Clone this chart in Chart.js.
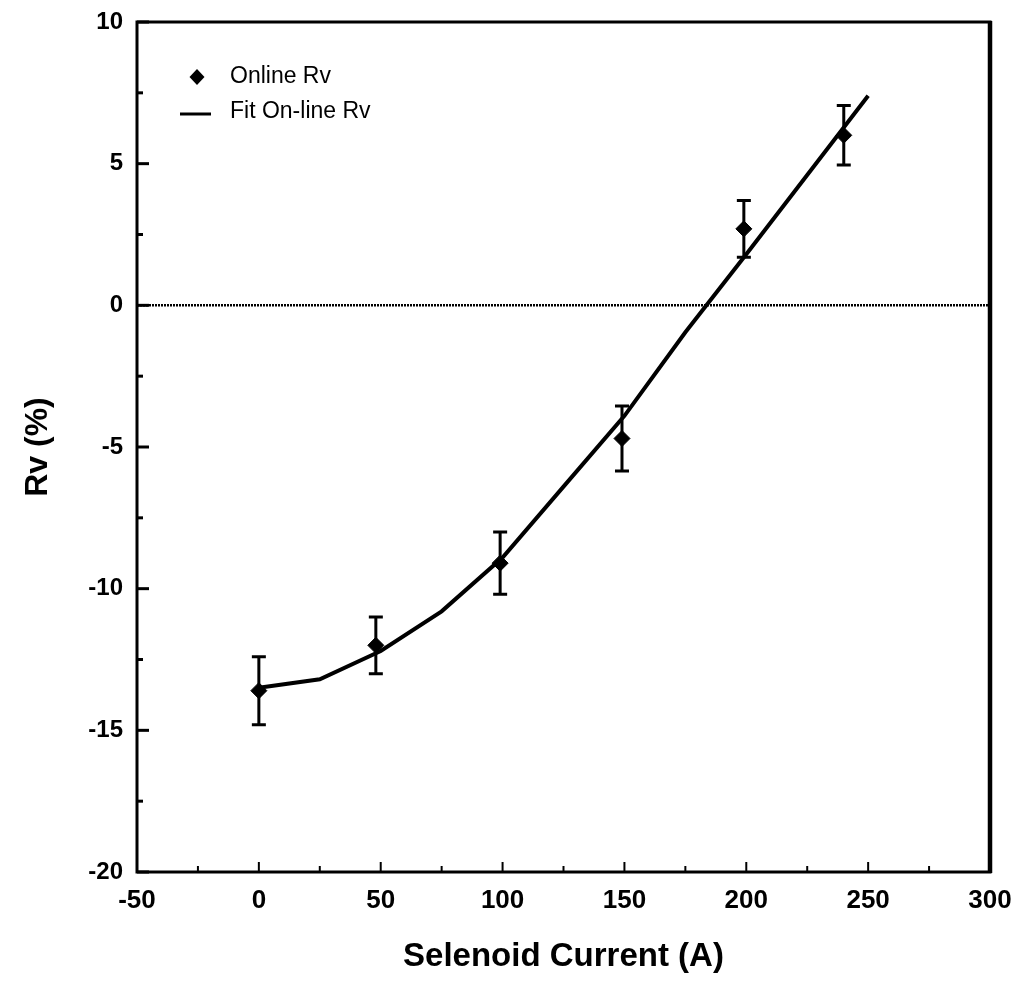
<!DOCTYPE html>
<html>
<head>
<meta charset="utf-8">
<script src="https://cdn.jsdelivr.net/npm/chart.js@4/dist/chart.umd.min.js"></script>
<style>
  html, body { margin: 0; padding: 0; background: #fff; }
  #wrap { width: 1017px; height: 981px; }
</style>
</head>
<body>
<div id="wrap"><canvas id="c" width="1017" height="981"></canvas></div>
<script>
// Measured on-line Rv versus solenoid current
const currents = [0, 48, 99, 149, 199, 240];
const rvOnline = [-13.6, -12.0, -9.1, -4.7, 2.7, 6.0];
const rvError = [1.2, 1.0, 1.1, 1.15, 1.0, 1.05];

// Fitted curve
const fitCurrent = [0, 25, 50, 75, 100, 125, 150, 175, 200, 225, 250];
const fitRv = [-13.5, -13.2, -12.2, -10.8, -8.9, -6.4, -3.9, -0.95, 1.8, 4.6, 7.4];

// Axis ranges and labelled ticks
const xRange = [-50, 300];
const yRange = [-20, 10];
const xLabelled = [-50, 0, 50, 100, 150, 200, 250, 300];
const yLabelled = [-20, -15, -10, -5, 0, 5, 10];

const FONT = '"Liberation Sans", Arial, Helvetica, sans-serif';

const measured = currents.map((x, i) => ({ x: x, y: rvOnline[i], err: rvError[i] }));
const fitted = fitCurrent.map((x, i) => ({ x: x, y: fitRv[i] }));

// Frame, inward ticks, zero line, error bars and in-plot legend
const decorations = {
  id: 'decorations',
  beforeDatasetsDraw(chart) {
    const { ctx, chartArea: a, scales: { x, y } } = chart;
    ctx.save();
    // dotted zero line
    const y0 = y.getPixelForValue(0);
    ctx.strokeStyle = '#000';
    ctx.lineWidth = 2.5;
    ctx.setLineDash([2, 1]);
    ctx.beginPath();
    ctx.moveTo(a.left, y0);
    ctx.lineTo(a.right, y0);
    ctx.stroke();
    ctx.setLineDash([]);

    // error bars
    ctx.lineWidth = 3;
    measured.forEach(d => {
      const px = x.getPixelForValue(d.x);
      const top = y.getPixelForValue(d.y + d.err);
      const bot = y.getPixelForValue(d.y - d.err);
      ctx.beginPath();
      ctx.moveTo(px, top); ctx.lineTo(px, bot);
      ctx.moveTo(px - 7, top); ctx.lineTo(px + 7, top);
      ctx.moveTo(px - 7, bot); ctx.lineTo(px + 7, bot);
      ctx.stroke();
    });
    ctx.restore();
  },
  afterDraw(chart) {
    const { ctx, chartArea: a, scales: { x, y } } = chart;
    ctx.save();
    ctx.strokeStyle = '#000';
    ctx.fillStyle = '#000';

    // inward ticks on the bottom axis
    ctx.lineWidth = 2;
    x.ticks.forEach(t => {
      const px = x.getPixelForValue(t.value);
      const len = (t.value % 50 === 0) ? 10 : 6;
      ctx.beginPath();
      ctx.moveTo(px, a.bottom);
      ctx.lineTo(px, a.bottom - len);
      ctx.stroke();
    });
    // inward ticks on the left axis
    ctx.lineWidth = 3;
    y.ticks.forEach(t => {
      const py = y.getPixelForValue(t.value);
      const len = (t.value % 5 === 0) ? 12 : 6;
      ctx.beginPath();
      ctx.moveTo(a.left, py);
      ctx.lineTo(a.left + len, py);
      ctx.stroke();
    });

    // frame
    ctx.lineWidth = 3;
    ctx.strokeRect(a.left, a.top, a.right - a.left, a.bottom - a.top);
    ctx.lineWidth = 4.5;
    ctx.beginPath();
    ctx.moveTo(a.right, a.top - 1);
    ctx.lineTo(a.right, a.bottom + 1);
    ctx.stroke();

    // legend
    const lx = a.left + 60;
    const ly1 = a.top + 55;
    const ly2 = a.top + 92;
    ctx.beginPath();
    ctx.moveTo(lx, ly1 - 8);
    ctx.lineTo(lx + 7.5, ly1);
    ctx.lineTo(lx, ly1 + 8);
    ctx.lineTo(lx - 7.5, ly1);
    ctx.closePath();
    ctx.fill();
    ctx.lineWidth = 3;
    ctx.beginPath();
    ctx.moveTo(lx - 17, ly2);
    ctx.lineTo(lx + 14, ly2);
    ctx.stroke();
    ctx.font = '23px ' + FONT;
    ctx.textBaseline = 'middle';
    ctx.textAlign = 'left';
    ctx.fillText(chart.data.datasets[0].label, lx + 33, ly1);
    ctx.fillText(chart.data.datasets[1].label, lx + 33, ly2 - 2);
    ctx.restore();
  }
};

new Chart(document.getElementById('c'), {
  type: 'scatter',
  data: {
    datasets: [
      {
        label: 'Online Rv',
        data: measured,
        pointStyle: 'rectRot',
        pointRadius: 8,
        pointHoverRadius: 8,
        backgroundColor: '#000',
        borderColor: '#000',
        borderWidth: 1,
        showLine: false,
        order: 1
      },
      {
        label: 'Fit On-line Rv',
        data: fitted,
        showLine: true,
        pointRadius: 0,
        borderColor: '#000',
        borderWidth: 4,
        tension: 0,
        order: 2
      }
    ]
  },
  plugins: [decorations],
  options: {
    responsive: false,
    animation: false,
    devicePixelRatio: 1,
    layout: { padding: { left: 19, top: 22, right: 27, bottom: 4 } },
    plugins: {
      legend: { display: false },
      tooltip: { enabled: false }
    },
    scales: {
      x: {
        type: 'linear',
        min: xRange[0],
        max: xRange[1],
        border: { display: false },
        grid: { display: false },
        ticks: {
          stepSize: 25,
          autoSkip: false,
          maxRotation: 0,
          padding: 5,
          color: '#000',
          font: { family: FONT, size: 26, weight: 'bold' },
          callback: v => xLabelled.includes(v) ? String(v) : ''
        },
        title: {
          display: true,
          text: 'Selenoid Current (A)',
          color: '#000',
          font: { family: FONT, size: 33, weight: 'bold' },
          padding: 0
        },
        afterFit(scale) { scale.height = 105; }
      },
      y: {
        type: 'linear',
        min: yRange[0],
        max: yRange[1],
        border: { display: false },
        grid: { display: false },
        ticks: {
          stepSize: 2.5,
          autoSkip: false,
          padding: 6,
          color: '#000',
          font: { family: FONT, size: 24, weight: 'bold' },
          callback: v => yLabelled.includes(v) ? String(v) : ''
        },
        title: {
          display: true,
          text: 'Rv (%)',
          color: '#000',
          font: { family: FONT, size: 32, weight: 'bold' },
          padding: 0
        },
        afterFit(scale) { scale.width = 137 - 19; }
      }
    }
  }
});
</script>
</body>
</html>
